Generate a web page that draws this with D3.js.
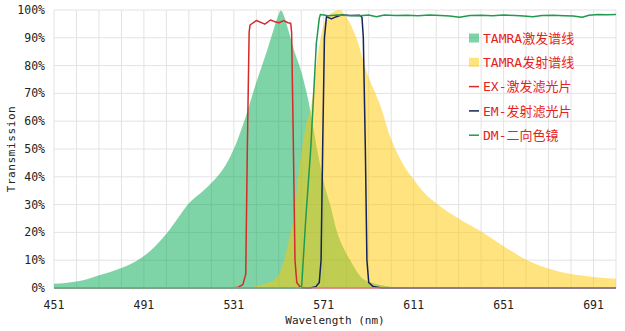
<!DOCTYPE html>
<html>
<head>
<meta charset="utf-8">
<script src="https://cdn.jsdelivr.net/npm/d3@7"></script>
<style>
  html, body { margin: 0; padding: 0; background: #fff; }
  svg { display: block; }
  .tick-label { font-family: "DejaVu Sans Mono", "Noto Sans CJK SC", monospace; font-size: 11.5px; fill: #222; }
  .axis-title { font-family: "DejaVu Sans Mono", "Noto Sans CJK SC", monospace; font-size: 11px; fill: #222; }
  .legend-text { font-family: "DejaVu Sans Mono", "Noto Sans CJK SC", monospace; font-size: 13px; fill: #e5231e; }
</style>
</head>
<body>
<script>
// TAMRA spectra and filter set: [wavelength nm, transmission %]
const exSpectrum = [
  [451, 1.5], [456, 1.8], [461, 2.3], [466, 3.2], [471, 4.6], [476, 5.8], [481, 7.2],
  [486, 9.0], [491, 11.5], [496, 15], [501, 19.5], [506, 25], [511, 30.5], [516, 34],
  [521, 37.8], [526, 42.5], [531, 50], [536, 61], [541, 74], [546, 86], [548.5, 92.5],
  [550.5, 97.5], [552, 99.8], [553.5, 97.5], [555.5, 92], [558, 85], [561, 77.8],
  [564, 68], [566.5, 57], [568.5, 48], [571, 38], [574, 29.5], [577, 20], [580, 14],
  [583, 9.6], [588, 3.6], [594, 1.5], [600, 0.5], [603, 0]
];
const emSpectrum = [
  [535, 0], [538, 0.3], [545, 1.5], [550, 3.6], [553, 9], [555, 15.6], [558, 27.5],
  [560, 42], [561.5, 51], [563, 58], [565.5, 66], [568.4, 84], [571.4, 95.8], [575, 99.2],
  [578, 100], [581, 97.5], [585.5, 90], [590, 78], [596, 66], [601, 53.5], [606, 45],
  [611, 39], [616, 34], [621, 30.5], [631, 25], [641, 20.3], [651, 15], [661, 10.2],
  [671, 7], [681, 5], [691, 4], [701, 3.3]
];
const exFilter = [
  [451, 0], [530, 0], [533, 0.3], [535, 1.2], [536.3, 5], [537, 50], [537.8, 92],
  [538.2, 94.6], [541, 96.2], [544.8, 94.9], [547.3, 96.4], [549.2, 95.8], [551.1, 95.4],
  [553.2, 96.2], [555.1, 95.4], [556.3, 95.2], [556.7, 92], [557.5, 50], [558.2, 10],
  [559, 2], [560.5, 0.3], [563, 0], [701, 0]
];
const emFilter = [
  [451, 0], [565, 0], [567.5, 0.5], [569, 2], [569.8, 10], [570.5, 50], [571.3, 90],
  [572.2, 97.6], [574.4, 96.8], [576.6, 97.6], [578.8, 98.2], [583, 98], [587, 98.1],
  [588, 97.4], [588.6, 90], [589.5, 50], [590.2, 10], [591, 2], [593, 0.5], [597, 0],
  [701, 0]
];
const dmFilter = [
  [451, 0], [560.5, 0], [561.2, 1], [563, 25], [565.2, 50], [567.7, 88], [569, 97],
  [569.5, 98.4], [573, 97.9], [577, 98.2], [582, 98], [587, 97.9], [591, 98.2],
  [594.4, 97.6], [598, 98.2], [603, 98], [608, 98.1], [613, 97.9], [618, 98.2],
  [623, 98], [627, 97.8], [631.4, 97.4], [636, 98], [641, 98.1], [646, 97.9],
  [651, 98.2], [656, 98], [660, 97.8], [664, 97.6], [668, 98], [673, 98.1],
  [678, 97.9], [682, 97.8], [686, 97.4], [689, 98.1], [693, 98.4], [697, 98.3], [701, 98.4]
];

const xTicks = [451, 491, 531, 571, 611, 651, 691];
const yTicks = [0, 10, 20, 30, 40, 50, 60, 70, 80, 90, 100];
const xDomain = [451, 701];

const legendItems = [
  { label: "TAMRA激发谱线", kind: "area", color: "#00a94f" },
  { label: "TAMRA发射谱线", kind: "area", color: "#ffc800" },
  { label: "EX-激发滤光片", kind: "line", color: "#d42a2a" },
  { label: "EM-发射滤光片", kind: "line", color: "#142454" },
  { label: "DM-二向色镜",   kind: "line", color: "#1f9a4e" }
];

const W = 625, H = 331;
const margin = { top: 10, right: 9, bottom: 43, left: 54 };

const svg = d3.select("body").append("svg").attr("width", W).attr("height", H);

const x = d3.scaleLinear().domain(xDomain).range([margin.left, W - margin.right]);
const y = d3.scaleLinear().domain([0, 100]).range([H - margin.bottom, margin.top]);

// grid: every 10 nm vertically, every 10 % horizontally
const xGrid = d3.range(xDomain[0], xDomain[1] + 0.1, 10);
svg.append("g").selectAll("line").data(xGrid).join("line")
  .attr("x1", d => x(d)).attr("x2", d => x(d))
  .attr("y1", y(0)).attr("y2", y(100))
  .attr("stroke", "#e3e3e3").attr("stroke-width", 1);
svg.append("g").selectAll("line").data(yTicks).join("line")
  .attr("x1", x(xDomain[0])).attr("x2", x(xDomain[1]))
  .attr("y1", d => y(d)).attr("y2", d => y(d))
  .attr("stroke", "#e3e3e3").attr("stroke-width", 1);

// spectra as translucent filled areas
const area = d3.area().x(d => x(d[0])).y0(y(0)).y1(d => y(d[1])).curve(d3.curveMonotoneX);
svg.append("path").datum(exSpectrum).attr("d", area)
  .attr("fill", legendItems[0].color).attr("fill-opacity", 0.5);
svg.append("path").datum(emSpectrum).attr("d", area)
  .attr("fill", legendItems[1].color).attr("fill-opacity", 0.5);

// filter transmission curves
const line = d3.line().x(d => x(d[0])).y(d => y(d[1])).curve(d3.curveLinear);
[[exFilter, 2], [emFilter, 3], [dmFilter, 4]].forEach(([data, i]) => {
  svg.append("path").datum(data).attr("d", line)
    .attr("fill", "none").attr("stroke", legendItems[i].color)
    .attr("stroke-width", 1.5).attr("stroke-linejoin", "round");
});

// axis base line
svg.append("line")
  .attr("x1", x(xDomain[0])).attr("x2", x(xDomain[1]))
  .attr("y1", y(0)).attr("y2", y(0))
  .attr("stroke", "#d8c8c8").attr("stroke-width", 1);

// tick labels
svg.append("g").selectAll("text").data(yTicks).join("text")
  .attr("class", "tick-label")
  .attr("x", margin.left - 9).attr("y", d => y(d))
  .attr("dy", "0.35em").attr("text-anchor", "end")
  .text(d => d + "%");
svg.append("g").selectAll("text").data(xTicks).join("text")
  .attr("class", "tick-label")
  .attr("x", d => x(d)).attr("y", y(0) + 17)
  .attr("dy", "0.35em").attr("text-anchor", "middle")
  .text(d => d);

// axis titles
svg.append("text").attr("class", "axis-title")
  .attr("x", (x(xDomain[0]) + x(xDomain[1])) / 2).attr("y", y(0) + 32)
  .attr("dy", "0.35em").attr("text-anchor", "middle")
  .text("Wavelength (nm)");
svg.append("text").attr("class", "axis-title")
  .attr("transform", `translate(11,${(y(0) + y(100)) / 2}) rotate(-90)`)
  .attr("dy", "0.35em").attr("text-anchor", "middle")
  .attr("letter-spacing", "0.6px")
  .text("Transmission");

// legend
const lg = svg.append("g").attr("transform", "translate(469,38)");
const rows = lg.selectAll("g").data(legendItems).join("g")
  .attr("transform", (d, i) => `translate(0,${i * 24.3})`);
rows.filter(d => d.kind === "area").append("rect")
  .attr("x", 0).attr("y", -4.5).attr("width", 10).attr("height", 9)
  .attr("fill", d => d.color).attr("fill-opacity", 0.5);
rows.filter(d => d.kind === "line").append("line")
  .attr("x1", 0).attr("x2", 10).attr("y1", 0).attr("y2", 0)
  .attr("stroke", d => d.color).attr("stroke-width", 1.5);
rows.append("text").attr("class", "legend-text")
  .attr("x", 14).attr("y", 0).attr("dy", "0.36em")
  .text(d => d.label);
</script>
</body>
</html>
